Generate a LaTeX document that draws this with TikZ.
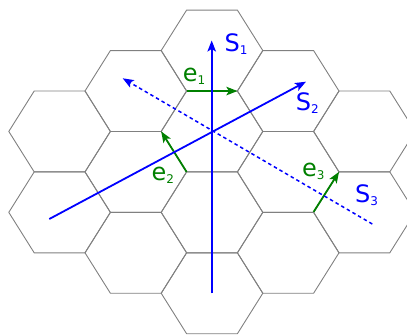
\documentclass[tikz,border=0pt]{standalone}
\usepackage{fontspec}
\setmainfont{DejaVu Sans}
\usetikzlibrary{arrows.meta}
\definecolor{hexgray}{RGB}{128,128,128}
\definecolor{sblue}{RGB}{0,0,255}
\definecolor{egreen}{RGB}{0,128,0}
\newcommand\sublbl[2]{#1\raisebox{-3pt}{\fontsize{12}{12}\selectfont #2}}
\begin{document}
\begin{tikzpicture}[x=1pt,y=-1pt,
  hexline/.style={draw=hexgray, line width=0.9pt, line join=miter},
  saxis/.style={draw=sblue, line width=1.8pt, -{Stealth[length=11pt,width=8.5pt,inset=2.5pt]}},
  sdash/.style={saxis, line width=1.5pt, dash pattern=on 3.5pt off 3pt},
  evec/.style={draw=egreen, line width=1.8pt, -{Stealth[length=11pt,width=8.5pt,inset=2.5pt]}},
  slbl/.style={anchor=base west, inner sep=0pt, text=sblue, font=\fontsize{24}{24}\selectfont},
  elbl/.style={anchor=base west, inner sep=0pt, text=egreen, font=\fontsize{24}{24}\selectfont}]
\path[use as bounding box] (0,0) rectangle (407,335);
\clip (0,0) rectangle (407,335);
% hexagonal grid
\foreach \k/\j in {0/-3,0/-1,0/1,0/3,-1/-2,-1/0,-1/2,1/-2,1/0,1/2,-2/-1,-2/1,2/-1,2/1}{
  \pgfmathsetmacro\cx{212+76.2*\k}
  \pgfmathsetmacro\cy{171.9+40.45*\j}
  \draw[hexline] (\cx+50.8,\cy) -- (\cx+25.4,\cy-40.45) -- (\cx-25.4,\cy-40.45)
    -- (\cx-50.8,\cy) -- (\cx-25.4,\cy+40.45) -- (\cx+25.4,\cy+40.45) -- cycle;
}
% hex vertices used by the e vectors
\coordinate (e1a) at (186.6,91.05);
\coordinate (e1b) at (237.4,91.05);
\coordinate (e2a) at (186.6,171.9);
\coordinate (e2b) at (161.2,131.45);
\coordinate (e3a) at (313.6,211.9);
\coordinate (e3b) at (339.0,171.9);
% S lines end points
\coordinate (s1a) at (211.7,293.3);
\coordinate (s1b) at (211.7,40.5);
\coordinate (s2a) at (49.3,219.0);
\coordinate (s2b) at (306.0,81.7);
\coordinate (s3a) at (372.3,224.0);
\coordinate (s3b) at (122.7,78.3);
% e vectors
\draw[evec] (e1a) -- (e1b);
\draw[evec] (e2a) -- (e2b);
\draw[evec] (e3a) -- (e3b);
% S lines
\draw[saxis] (s1a) -- (s1b);
\draw[saxis] (s2a) -- (s2b);
\draw[sdash] (s3a) -- (s3b);
% labels
\node[slbl] (l1) at (224.5,51.0) {\sublbl{S}{1}};
\node[slbl] (l2) at (295.7,110.5) {\sublbl{S}{2}};
\node[slbl] (l3) at (355.0,202.7) {\sublbl{S}{3}};
\node[elbl] (m1) at (182.7,81.5) {\sublbl{e}{1}};
\node[elbl] (m2) at (151.4,180.7) {\sublbl{e}{2}};
\node[elbl] (m3) at (302.0,176.5) {\sublbl{e}{3}};
\end{tikzpicture}
\end{document}
